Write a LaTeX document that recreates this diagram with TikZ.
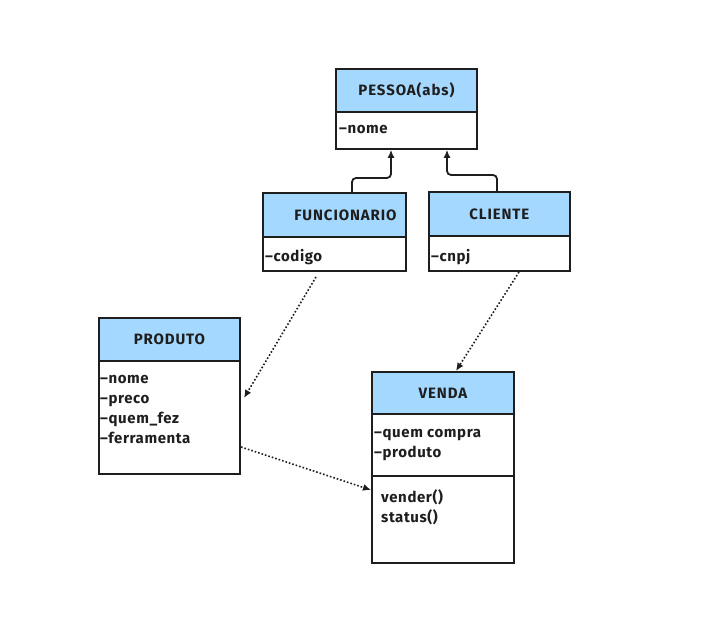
\documentclass[tikz,border=0pt]{standalone}
\usepackage{fontspec}
\setmainfont{Fira Sans}
\newfontfamily\hdrfont[LetterSpace=6]{Fira Sans}
\newfontfamily\attrfont[LetterSpace=4]{Fira Sans}
\usetikzlibrary{arrows.meta}
\definecolor{hdrblue}{HTML}{A5D8FF}
\definecolor{ink}{HTML}{1E1E1E}
\tikzset{
  box/.style={draw=ink, line width=1.8pt, anchor=north west, inner sep=0pt},
  hdr/.style={box, fill=hdrblue, text=ink, font=\hdrfont\bfseries\fontsize{15}{17}\selectfont},
  body/.style={box, fill=white},
  attrs/.style={anchor=north west, align=left, inner sep=0pt, text=ink,
    font=\attrfont\bfseries\fontsize{15}{20}\selectfont},
  inherit/.style={draw=ink, line width=1.8pt, rounded corners=4pt, -{Latex[length=8pt,width=7pt]}},
  dep/.style={draw=ink, line width=1.6pt, dotted, -{Latex[length=8pt,width=7pt]}}
}
\begin{document}
\begin{tikzpicture}[x=1pt,y=-1pt]
\useasboundingbox (0,0) rectangle (712,620);
\fill[white] (0,0) rectangle (712,620);
% PESSOA
\node[hdr, minimum width=141pt, minimum height=43pt] (pessoa) at (335,68) {PESSOA(abs)};
\node[body, minimum width=141pt, minimum height=37pt] (pessoab) at (335,111) {};
\node[attrs] (pessoaa) at (339,125) {\textendash nome};
% FUNCIONARIO
\node[hdr, minimum width=143pt, minimum height=44pt] (func) at (262,192) {\hspace{22pt}FUNCIONARIO};
\node[body, minimum width=143pt, minimum height=34pt] (funcb) at (262,236) {};
\node[attrs] (funca) at (265,249) {\textendash codigo};
% CLIENTE
\node[hdr, minimum width=141pt, minimum height=44pt] (cli) at (428,191) {CLIENTE};
\node[body, minimum width=141pt, minimum height=35pt] (clib) at (428,235) {};
\node[attrs] (clia) at (431,249) {\textendash cnpj};
% PRODUTO
\node[hdr, minimum width=141pt, minimum height=43pt] (prod) at (98,317) {PRODUTO};
\node[body, minimum width=141pt, minimum height=113pt] (prodb) at (98,360) {};
\node[attrs] (proda) at (100,375) {\textendash nome\\\textendash preco\\\textendash quem\_fez\\\textendash ferramenta};
% VENDA
\node[hdr, minimum width=142pt, minimum height=42pt] (venda) at (371,371) {VENDA};
\node[body, minimum width=142pt, minimum height=62pt] (vendab) at (371,413) {};
\node[attrs] (vendaa) at (374,429) {\textendash quem compra\\\textendash produto};
\node[body, minimum width=142pt, minimum height=87pt] (vendam) at (371,475) {};
\node[attrs] (vendamt) at (381,489) {vender()\\status()};
% inheritance
\coordinate (f1) at (352,178);
\coordinate (f2) at (391,178);
\draw[inherit] (func.north -| f1) -- (f1) -- (f2) -- (pessoab.south -| f2);
\coordinate (c1) at (497,175);
\coordinate (c2) at (447,175);
\draw[inherit] (cli.north -| c1) -- (c1) -- (c2) -- (pessoab.south -| c2);
% dependencies
\coordinate (d1) at (316,277);
\coordinate (d2) at (244,398);
\draw[dep] (d1) -- (d2);
\coordinate (d3) at (519,272);
\coordinate (d4) at (456,371);
\draw[dep] (d3) -- (d4);
\coordinate (d5) at (241,447);
\coordinate (d6) at (371,490);
\draw[dep] (d5) -- (d6);
\end{tikzpicture}
\end{document}
